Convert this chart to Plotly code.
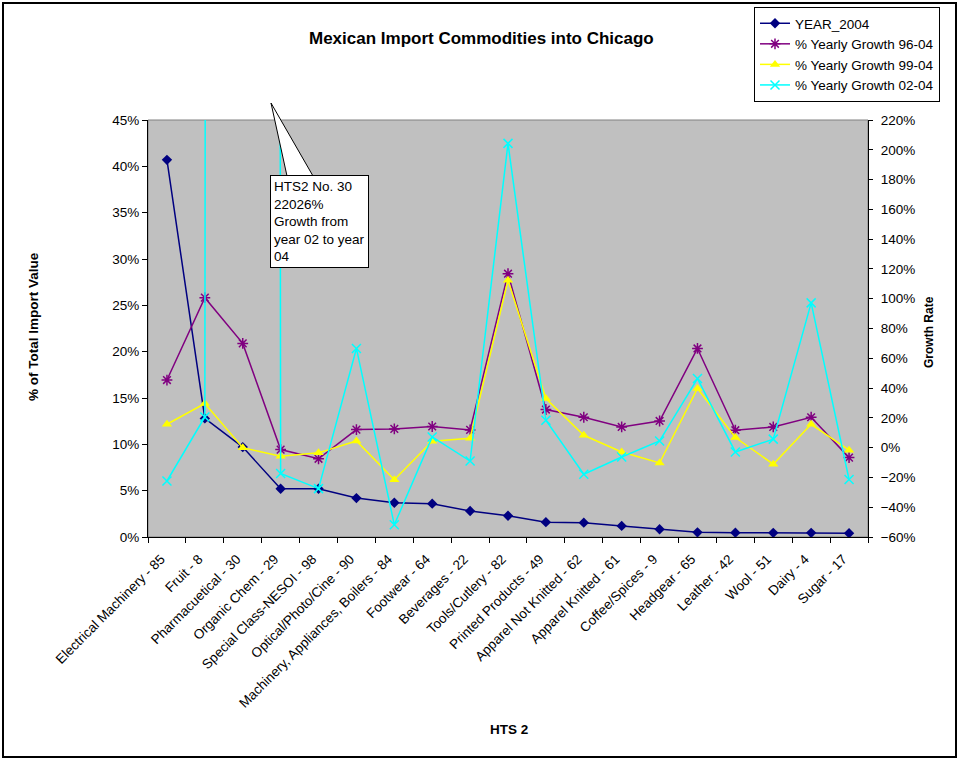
import plotly.graph_objects as go

categories = [
    "Electrical Machinery - 85", "Fruit - 8", "Pharmacuetical - 30", "Organic Chem - 29",
    "Special Class-NESOI - 98", "Optical/Photo/Cine - 90", "Machinery, Appliances, Boilers - 84",
    "Footwear - 64", "Beverages - 22", "Tools/Cutlery - 82", "Printed Products - 49",
    "Apparel Not Knitted - 62", "Apparel Knitted - 61", "Coffee/Spices - 9", "Headgear - 65",
    "Leather - 42", "Wool - 51", "Dairy - 4", "Sugar - 17",
]
year_2004 = [0.407, 0.128, 0.097, 0.052, 0.052, 0.042, 0.037, 0.036, 0.028, 0.023,
             0.016, 0.0155, 0.012, 0.0083, 0.005, 0.0047, 0.0045, 0.0045, 0.004]
growth_96_04 = [0.454, 1.007, 0.70, -0.013, -0.075, 0.121, 0.126, 0.142, 0.119, 1.168,
                0.256, 0.204, 0.139, 0.179, 0.666, 0.117, 0.139, 0.204, -0.067]
growth_99_04 = [0.157, 0.296, 0.0, -0.058, -0.035, 0.045, -0.215, 0.043, 0.063, 1.124,
                0.33, 0.083, -0.029, -0.103, 0.397, 0.068, -0.111, 0.157, -0.017]
growth_02_04 = [-0.224, 0.206, 220.26, -0.174, -0.275, 0.666, -0.518, 0.072, -0.09, 2.043,
                0.184, -0.179, -0.063, 0.045, 0.464, -0.029, 0.057, 0.972, -0.214]

FONT = "Arial, Liberation Sans, sans-serif"
FS = 13.5
W, H = 958, 759
L, R, T, B = 148, 90, 120, 222
PW, PH = W - L - R, H - T - B


def px(x):
    return (x - L) / PW


def py(y):
    return 1 - (y - T) / PH


fig = go.Figure()
fig.add_trace(go.Scatter(
    x=categories, y=year_2004, name="YEAR_2004", mode="lines+markers",
    line=dict(color="#000080", width=1.5),
    marker=dict(symbol="diamond", size=8, color="#000080"),
))
fig.add_trace(go.Scatter(
    x=categories, y=growth_96_04, name="% Yearly Growth 96-04", mode="lines+markers", yaxis="y2",
    line=dict(color="#800080", width=1.5),
    marker=dict(symbol="asterisk-open", size=9, line=dict(color="#800080", width=1.5)),
))
fig.add_trace(go.Scatter(
    x=categories, y=growth_99_04, name="% Yearly Growth 99-04", mode="lines+markers", yaxis="y2",
    line=dict(color="#FFFF00", width=1.5),
    marker=dict(symbol="triangle-up", size=9, color="#FFFF00"),
))
fig.add_trace(go.Scatter(
    x=categories, y=growth_02_04, name="% Yearly Growth 02-04", mode="lines+markers", yaxis="y2",
    line=dict(color="#00FFFF", width=1.5),
    marker=dict(symbol="x-thin-open", size=9, line=dict(color="#00FFFF", width=1.5)),
))

fig.update_layout(
    width=W, height=H,
    margin=dict(l=L, r=R, t=T, b=B, autoexpand=False),
    paper_bgcolor="white", plot_bgcolor="#C0C0C0",
    font=dict(family=FONT, size=FS, color="black"),
    showlegend=True,
    legend=dict(
        x=px(754), y=py(7), xanchor="left", yanchor="top",
        bgcolor="white", bordercolor="black", borderwidth=1,
        font=dict(family=FONT, size=FS), tracegroupgap=0,
        itemwidth=30,
    ),
    xaxis=dict(
        type="category", range=[-0.5, 18.5], showgrid=False, zeroline=False,
        showline=True, linecolor="#000000", linewidth=1,
        ticks="outside", ticklen=5, tickcolor="black", tickson="boundaries",
        tickangle=-45, tickfont=dict(family=FONT, size=FS),
        ticklabelstandoff=8, ticklabelshift=-6,
    ),
    yaxis=dict(
        range=[0, 0.45], dtick=0.05, tickformat=".0%", showgrid=False, zeroline=False,
        showline=True, linecolor="black", linewidth=1,
        ticks="outside", ticklen=5, tickcolor="black",
        tickfont=dict(family=FONT, size=FS),
    ),
    yaxis2=dict(
        range=[-0.6, 2.2], dtick=0.2, tickformat=".0%", overlaying="y", side="right",
        showgrid=False, zeroline=False, showline=True, linecolor="black", linewidth=1,
        ticks="outside", ticklen=4, tickcolor="black",
        tickfont=dict(family=FONT, size=FS), ticklabelstandoff=5,
    ),
    shapes=[
        dict(type="rect", xref="paper", yref="paper", x0=0, x1=1, y0=0, y1=1,
             line=dict(color="#808080", width=1), layer="below"),
        dict(type="rect", xref="paper", yref="paper",
             x0=px(3), x1=px(956), y0=py(757), y1=py(3),
             line=dict(color="black", width=2)),
        dict(type="path", xref="paper", yref="paper",
             path=f"M {px(287)} {py(176)} L {px(271)} {py(103)} L {px(313)} {py(176)} Z",
             fillcolor="white", line=dict(color="black", width=1)),
    ],
    annotations=[
        dict(text="<b>Mexican Import Commodities into Chicago</b>", xref="paper", yref="paper",
             x=px(481), y=py(39), xanchor="center", yanchor="middle", showarrow=False,
             font=dict(family=FONT, size=17)),
        dict(text="<b>% of Total Import Value</b>", xref="paper", yref="paper",
             x=px(33), y=py(327), xanchor="center", yanchor="middle", textangle=-90,
             showarrow=False, font=dict(family=FONT, size=FS)),
        dict(text="<b>Growth Rate</b>", xref="paper", yref="paper",
             x=px(929), y=py(332), xanchor="center", yanchor="middle", textangle=-90,
             showarrow=False, font=dict(family=FONT, size=12)),
        dict(text="<b>HTS 2</b>", xref="paper", yref="paper",
             x=px(509), y=py(729), xanchor="center", yanchor="middle",
             showarrow=False, font=dict(family=FONT, size=FS)),
        dict(text="HTS2 No. 30<br>22026%<br>Growth from<br>year 02 to year<br>04",
             xref="paper", yref="paper", x=px(270), y=py(175), xanchor="left", yanchor="top",
             align="left", valign="top", showarrow=False, bgcolor="white",
             bordercolor="black", borderwidth=1, borderpad=3,
             font=dict(family=FONT, size=FS)),
    ],
)

fig.write_html("out.html", config={"displayModeBar": False},
               post_script="document.body.style.margin='0';")
